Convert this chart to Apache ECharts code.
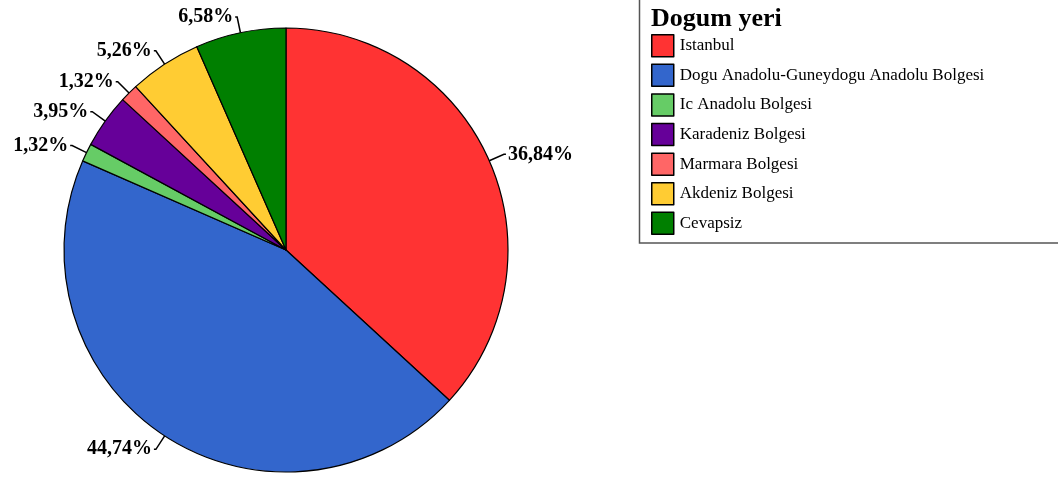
<!DOCTYPE html>
<html>
<head>
<meta charset="utf-8">
<script src="https://cdn.jsdelivr.net/npm/echarts@6/dist/echarts.min.js"></script>
<style>
  html, body { margin: 0; padding: 0; background: #fff; }
  #chart { width: 1058px; height: 479px; }
</style>
</head>
<body>
<div id="chart"></div>
<script>
// Dogum yeri dagilimi (n = 76)
const categories = ['Istanbul', 'Dogu Anadolu-Guneydogu Anadolu Bolgesi', 'Ic Anadolu Bolgesi',
  'Karadeniz Bolgesi', 'Marmara Bolgesi', 'Akdeniz Bolgesi', 'Cevapsiz']
const percents = [36.84, 44.74, 1.32, 3.95, 1.32, 5.26, 6.58]
const colors = ['#ff3333', '#3366cc', '#66cc66', '#660099', '#ff6666', '#ffcc33', '#007f00']
const legendTitle = 'Dogum yeri'

const font = '"Liberation Serif", "Times New Roman", serif'

const chart = echarts.init(document.getElementById('chart'))
const option = {
  animation: false,
  color: colors,
  graphic: [
    {
      type: 'rect',
      shape: { x: 639.5, y: -2, width: 430, height: 245 },
      style: { fill: '#fff', stroke: '#555', lineWidth: 1.5 },
      z: 0
    },
    {
      type: 'text',
      left: 651,
      top: 6,
      style: { text: legendTitle, font: 'bold 26px ' + font, fill: '#000' },
      z: 10
    }
  ],
  legend: {
    orient: 'vertical',
    left: 646,
    top: 29,
    itemWidth: 22,
    itemHeight: 22,
    itemGap: 6.1,
    icon: 'rect',
    itemStyle: { borderColor: '#000', borderWidth: 1.5 },
    textStyle: { fontFamily: font, fontSize: 17, color: '#000', padding: [0, 0, 0, 1] },
    data: categories
  },
  series: [{
    type: 'pie',
    center: [286, 250],
    radius: 222,
    startAngle: 90,
    clockwise: true,
    data: categories.map((c, i) => ({ name: c, value: percents[i] })),
    itemStyle: { borderColor: '#000', borderWidth: 1.2 },
    label: {
      show: true,
      position: 'outside',
      formatter: p => p.value.toFixed(2).replace('.', ',') + '%',
      fontFamily: font,
      fontWeight: 'bold',
      fontSize: 20,
      color: '#000',
      distanceToLabelLine: 2
    },
    labelLine: { show: true, length: 16, length2: 2, lineStyle: { color: '#000', width: 1.5 } },
    emphasis: { disabled: true }
  }]
}
chart.setOption(option)
</script>
</body>
</html>
